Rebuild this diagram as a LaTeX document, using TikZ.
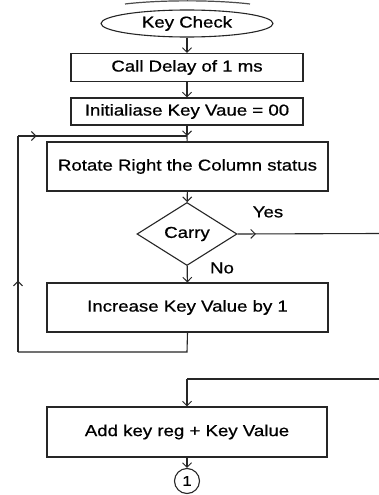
\documentclass[tikz,border=0pt]{standalone}
\usepackage{fontspec}
\setmainfont[FakeStretch=1.18,FakeBold=0.7]{Liberation Sans}
\usetikzlibrary{shapes.geometric,arrows.meta,decorations.markings}
\tikzset{
  x=1pt, y=-1pt,
  line/.style={draw=black!85, line width=1.1pt},
  arr/.style={line, -{Straight Barb[length=4.5pt,width=9pt,line width=1pt]}},
  procbox/.style={line, rectangle, inner sep=0pt, font=\fontsize{15.8}{18}\selectfont},
  termbox/.style={line, ellipse, inner sep=0pt, font=\fontsize{15.8}{18}\selectfont},
  decbox/.style={line, diamond, aspect=1.6, inner sep=0pt, minimum width=100pt, minimum height=63pt, font=\fontsize{15.8}{18}\selectfont},
  lbl/.style={font=\fontsize{15.8}{18}\selectfont, inner sep=0pt},
  midarrow/.style={postaction={decorate, decoration={markings,
      mark=at position #1 with {\arrow{Straight Barb[length=4.5pt,width=9pt,line width=1pt]}}}}}
}
\begin{document}
\begin{tikzpicture}
\useasboundingbox (0,0) rectangle (379,495);
\fill[white] (0,0) rectangle (379,495);
% faint artefact arc at the very top
\draw[black!70, line width=1.2pt] (125,4) .. controls (160,-0.2) and (215,-0.2) .. (250,4);

\node[termbox, minimum width=172pt, minimum height=27pt] (start) at (187,23.5) {Key Check};
\node[procbox, minimum width=232pt, minimum height=28pt] (delay) at (187,67.5) {Call Delay of 1 ms};
\node[procbox, minimum width=232pt, minimum height=27pt] (init) at (187,111.5) {Initialiase Key Vaue = 00};
\node[procbox, minimum width=281pt, minimum height=49pt] (rot) at (187.5,166.5) {Rotate Right the Column status};
\node[decbox] (carry) at (187,234) {Carry};
\node[procbox, minimum width=281pt, minimum height=49pt] (inc) at (187.5,307.5) {Increase Key Value by 1};
\node[procbox, minimum width=280pt, minimum height=50pt] (add) at (187,432) {Add key reg + Key Value};
\node[line, circle, minimum size=25pt, inner sep=0pt, font=\fontsize{14}{16}\selectfont] (one) at (187,481) {1};

\node[lbl] (yes) at (268,212) {Yes};
\node[lbl] (no) at (222,268) {No};

\coordinate (J) at (187,136);
\coordinate (L1) at (18,352);
\coordinate (L2) at (18,136);
\coordinate (B) at (187,352);
\coordinate (E1) at (379,233.5);
\coordinate (E2) at (379,379);
\coordinate (R) at (187,379);

\draw[arr] (start) -- (delay);
\draw[arr] (delay) -- (init);
\draw[arr] (init) -- (J);
\draw[line] (J) -- (rot);
\draw[arr] (rot) -- (carry);
\draw[arr] (carry) -- (inc);
\draw[line, midarrow=0.13] (carry.east) -- (E1);
\draw[line] (inc.south) -- (B) -- (L1);
\draw[line, midarrow=0.33] (L1) -- (L2);
\draw[line, midarrow=0.11] (L2) -- (J);
\draw[line] (E2) -- (R);
\draw[arr] (R) -- (add);
\draw[arr] (add) -- (one);
\end{tikzpicture}
\end{document}
